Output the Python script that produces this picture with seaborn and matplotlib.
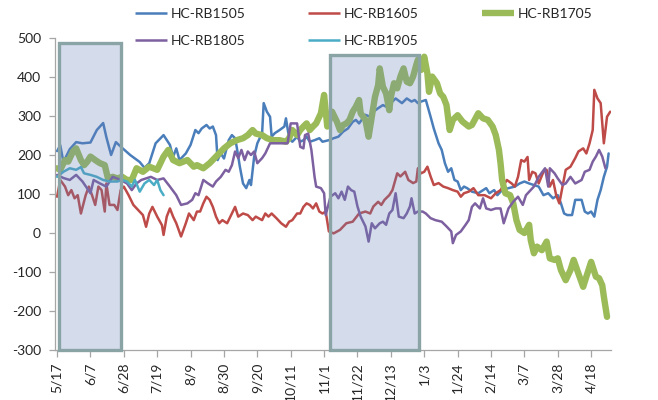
import numpy as np
import pandas as pd
import matplotlib
matplotlib.use("Agg")
import matplotlib.pyplot as plt
from matplotlib.patches import Rectangle
from matplotlib.lines import Line2D
import seaborn as sns

# ---------------- data (day offset from 5/17, spread value) ----------------
SERIES = ["HC-RB1505", "HC-RB1605", "HC-RB1705", "HC-RB1805", "HC-RB1905"]

rb1505_days = [0, 2, 4, 8, 12, 16, 21, 25, 29, 31, 34, 37, 41, 46, 52, 55, 58, 62, 67, 71, 73, 75, 77, 81, 84, 87, 89, 91, 94, 96, 98, 100, 101, 103, 105, 108, 110, 112, 113, 115, 117, 119, 121, 122, 124, 126, 129, 130, 132, 134, 135, 137, 140, 143, 144, 146, 148, 151, 153, 155, 157, 159, 162, 165, 167, 171, 174, 177, 180, 183, 186, 188, 190, 194, 197, 199, 202, 205, 207, 210, 213, 217, 220, 223, 225, 227, 229, 232, 235, 237, 240, 242, 244, 246, 248, 250, 252, 254, 256, 258, 261, 265, 268, 270, 272, 275, 277, 280, 284, 288, 291, 294, 297, 300, 303, 306, 309, 312, 315, 317, 319, 321, 324, 326, 330, 332, 334, 336, 338, 340, 342, 344, 346, 347]
rb1505_vals = [210, 225, 182, 215, 233, 230, 232, 264, 282, 246, 200, 233, 218, 200, 182, 167, 179, 230, 251, 226, 195, 217, 187, 204, 226, 264, 256, 268, 277, 268, 273, 251, 187, 204, 191, 238, 251, 243, 221, 170, 127, 115, 136, 123, 196, 230, 256, 333, 311, 298, 247, 256, 264, 273, 294, 243, 234, 247, 234, 238, 247, 234, 238, 243, 234, 238, 243, 247, 260, 268, 285, 290, 281, 303, 298, 311, 320, 328, 324, 333, 345, 333, 345, 337, 341, 333, 337, 341, 298, 268, 230, 213, 179, 157, 166, 136, 132, 110, 119, 115, 106, 102, 110, 115, 102, 110, 97, 110, 115, 119, 127, 132, 127, 123, 119, 97, 102, 89, 97, 76, 50, 46, 46, 85, 85, 55, 50, 55, 42, 85, 110, 144, 170, 204]

rb1605_days = [0, 2, 5, 7, 9, 11, 13, 15, 18, 20, 22, 24, 26, 28, 30, 31, 33, 36, 38, 40, 42, 45, 48, 51, 54, 56, 58, 60, 63, 66, 67, 69, 71, 73, 75, 78, 81, 83, 86, 88, 90, 92, 94, 96, 98, 100, 102, 104, 107, 109, 112, 114, 117, 120, 123, 125, 129, 131, 133, 135, 138, 141, 144, 146, 148, 151, 153, 155, 157, 159, 161, 163, 165, 167, 169, 171, 174, 178, 182, 186, 190, 194, 197, 199, 202, 204, 206, 209, 211, 214, 216, 219, 221, 224, 226, 227, 229, 231, 233, 235, 237, 240, 243, 246, 249, 252, 254, 256, 259, 262, 265, 269, 273, 276, 279, 281, 283, 286, 288, 290, 292, 294, 296, 297, 299, 301, 303, 306, 308, 310, 312, 314, 316, 318, 320, 323, 326, 328, 331, 333, 335, 337, 338, 340, 342, 344, 346, 348]
rb1605_vals = [93, 136, 119, 97, 110, 89, 97, 50, 97, 119, 97, 72, 119, 110, 55, 127, 72, 72, 59, 110, 119, 97, 72, 59, 46, 16, 50, 67, 42, 20, -5, 42, 63, 42, 25, -9, 25, 50, 33, 55, 55, 76, 93, 85, 67, 42, 25, 33, 25, 42, 67, 42, 50, 46, 33, 42, 33, 50, 42, 50, 38, 25, 16, 29, 33, 50, 50, 67, 76, 72, 63, 76, 55, 50, 55, 4, -1, 8, 25, 29, 50, 55, 50, 68, 80, 72, 85, 97, 110, 153, 145, 157, 136, 128, 132, 166, 153, 157, 170, 145, 123, 128, 119, 115, 110, 106, 93, 102, 106, 115, 97, 97, 89, 102, 110, 123, 136, 127, 119, 144, 187, 183, 195, 136, 157, 153, 127, 157, 162, 119, 136, 97, 76, 119, 162, 170, 192, 209, 217, 204, 230, 264, 367, 345, 333, 230, 298, 311]

rb1705_days = [0, 2, 5, 7, 10, 12, 15, 17, 19, 21, 24, 27, 30, 32, 35, 38, 41, 44, 47, 50, 54, 58, 63, 67, 70, 73, 77, 82, 86, 88, 92, 96, 100, 105, 109, 113, 117, 120, 123, 125, 129, 132, 136, 140, 144, 146, 148, 151, 153, 155, 157, 159, 161, 163, 166, 168, 170, 173, 176, 178, 180, 182, 184, 186, 188, 190, 191, 194, 196, 198, 200, 202, 203, 205, 207, 209, 210, 212, 214, 216, 218, 220, 222, 224, 226, 227, 229, 231, 233, 234, 236, 239, 241, 243, 245, 247, 249, 252, 255, 259, 261, 265, 268, 271, 274, 276, 278, 279, 280, 282, 285, 287, 289, 291, 294, 297, 298, 300, 302, 305, 308, 310, 313, 315, 317, 320, 323, 325, 328, 331, 333, 336, 339, 341, 343, 344, 346]
rb1705_vals = [166, 162, 187, 183, 209, 217, 187, 174, 183, 196, 187, 179, 174, 140, 144, 140, 144, 136, 136, 166, 157, 170, 162, 196, 213, 187, 179, 187, 170, 174, 166, 179, 196, 217, 230, 238, 243, 251, 264, 255, 251, 243, 238, 238, 234, 243, 264, 251, 264, 273, 281, 264, 273, 281, 307, 354, 273, 311, 286, 264, 277, 281, 290, 311, 324, 341, 307, 290, 247, 298, 349, 379, 422, 375, 358, 315, 349, 384, 371, 401, 422, 388, 384, 401, 431, 444, 418, 452, 409, 362, 401, 384, 358, 349, 328, 264, 290, 302, 286, 273, 277, 307, 294, 290, 273, 251, 213, 179, 136, 102, 97, 76, 33, 8, 0, 21, -18, -52, -35, -44, -22, -65, -69, -65, -95, -121, -95, -69, -104, -138, -112, -74, -112, -116, -134, -163, -215]

rb1805_days = [0, 4, 8, 12, 16, 21, 23, 27, 31, 35, 40, 44, 47, 50, 53, 56, 59, 63, 67, 71, 75, 78, 82, 85, 87, 89, 92, 95, 98, 100, 103, 106, 108, 110, 112, 114, 116, 118, 120, 122, 124, 126, 129, 131, 134, 138, 142, 145, 147, 151, 153, 155, 156, 158, 160, 162, 163, 166, 168, 169, 172, 175, 177, 179, 181, 183, 185, 187, 189, 191, 194, 196, 198, 200, 203, 205, 207, 209, 211, 213, 215, 218, 220, 222, 223, 225, 227, 230, 232, 235, 238, 242, 245, 248, 249, 251, 254, 257, 259, 261, 263, 266, 268, 270, 273, 276, 279, 281, 284, 287, 290, 293, 295, 298, 300, 303, 307, 309, 310, 313, 315, 318, 320, 323, 326, 330, 332, 335, 337, 339, 341, 343, 345]
rb1805_vals = [149, 141, 136, 149, 132, 102, 136, 127, 119, 144, 136, 127, 110, 127, 136, 140, 144, 136, 140, 119, 97, 72, 76, 85, 102, 97, 136, 127, 119, 132, 144, 162, 157, 174, 209, 192, 213, 187, 209, 200, 209, 179, 192, 204, 230, 230, 230, 230, 281, 281, 221, 217, 251, 255, 213, 144, 119, 115, 102, 46, 93, 102, 89, 106, 85, 119, 110, 106, 68, 42, 17, -22, 25, 12, 25, 29, 21, 50, 59, 102, 42, 38, 50, 68, 89, 50, 55, 55, 50, 38, 33, 29, 17, 4, -26, -5, 4, 21, 33, 67, 76, 63, 89, 63, 59, 63, 63, 25, 63, 80, 93, 72, 97, 110, 119, 144, 166, 119, 166, 153, 140, 123, 127, 144, 127, 136, 157, 162, 183, 196, 213, 196, 166]

rb1905_days = [0, 4, 8, 12, 15, 17, 21, 25, 29, 33, 38, 41, 44, 47, 49, 52, 55, 58, 61, 63, 65, 67]
rb1905_vals = [144, 157, 166, 162, 169, 153, 149, 144, 136, 132, 132, 136, 132, 119, 136, 106, 127, 136, 123, 136, 110, 97]

TICK_DAYS = [0, 21, 42, 63, 84, 105, 126, 147, 168, 189, 210, 231, 252, 273, 294, 315, 336]
TICK_LABELS = ["5/17", "6/7", "6/28", "7/19", "8/9", "8/30", "9/20", "10/11", "11/1",
               "11/22", "12/13", "1/3", "1/24", "2/14", "3/7", "3/28", "4/18"]
Y_TICKS = [-300, -200, -100, 0, 100, 200, 300, 400, 500]

# highlighted periods: (start day, end day, top value)
SHADE_SPANS = [(1.3, 40.2, 487), (171.5, 228.0, 456)]

# ---------------- build dataframe ----------------
series_data = {
    "HC-RB1505": (rb1505_days, rb1505_vals),
    "HC-RB1605": (rb1605_days, rb1605_vals),
    "HC-RB1705": (rb1705_days, rb1705_vals),
    "HC-RB1805": (rb1805_days, rb1805_vals),
    "HC-RB1905": (rb1905_days, rb1905_vals),
}
frames = []
for name, (d, v) in series_data.items():
    frames.append(pd.DataFrame({"day": d, "value": v, "series": name}))
df = pd.concat(frames, ignore_index=True)

COLORS = {
    "HC-RB1505": "#4a7ebb",
    "HC-RB1605": "#be4b48",
    "HC-RB1705": "#9bbb59",
    "HC-RB1805": "#7d60a0",
    "HC-RB1905": "#4bacc6",
}
WIDTHS = {
    "HC-RB1505": 1.8,
    "HC-RB1605": 1.8,
    "HC-RB1705": 4.6,
    "HC-RB1805": 1.8,
    "HC-RB1905": 1.8,
}

# ---------------- plot ----------------
sns.set_theme(style="white")
plt.rcParams["font.family"] = ["Lato", "DejaVu Sans"]

fig = plt.figure(figsize=(6.58, 4.0), dpi=100)
ax = fig.add_axes([55 / 658, 50 / 400, (611 - 55) / 658, (350 - 38) / 400])

for name in SERIES:
    sub = df[df["series"] == name]
    sns.lineplot(data=sub, x="day", y="value", ax=ax, color=COLORS[name],
                 linewidth=WIDTHS[name], legend=False, estimator=None,
                 solid_joinstyle="round", solid_capstyle="round")

for (x0, x1, top) in SHADE_SPANS:
    ax.add_patch(Rectangle((x0, -300), x1 - x0, top + 300, facecolor=(0.40, 0.50, 0.72),
                           alpha=0.28, edgecolor="none", zorder=5))
    ax.add_patch(Rectangle((x0, -300), x1 - x0, top + 300, facecolor="none",
                           edgecolor="#8aa3a4", linewidth=2.4, zorder=6, clip_on=False))

ax.set_xlim(-1.3, 348.5)
ax.set_ylim(-300, 500)
ax.set_xticks(TICK_DAYS)
ax.set_xticklabels(TICK_LABELS, rotation=90)
ax.set_yticks(Y_TICKS)
ax.set_yticklabels([str(v) for v in Y_TICKS])
ax.set_xlabel("")
ax.set_ylabel("")

for s in ["top", "right"]:
    ax.spines[s].set_visible(False)
for s in ["left", "bottom"]:
    ax.spines[s].set_color("#a6a6a6")
    ax.spines[s].set_linewidth(0.9)

ax.tick_params(axis="y", direction="out", length=4, width=0.9, color="#a6a6a6",
               labelsize=10, labelcolor="#262626", pad=6, left=True)
ax.tick_params(axis="x", direction="out", length=5, width=0.9, color="#a6a6a6",
               labelsize=10, labelcolor="#262626", pad=4, bottom=True)
ax.grid(False)

# legend (row-major order as in the reference)
order = ["HC-RB1505", "HC-RB1805", "HC-RB1605", "HC-RB1905", "HC-RB1705"]
handles = [Line2D([0], [0], color=COLORS[n], linewidth=WIDTHS[n], solid_capstyle="butt")
           for n in order]
fig.legend(handles, order, ncol=3, loc="upper left",
           bbox_to_anchor=(135 / 658, 1 - 8 / 400), frameon=False,
           handlelength=2.3, handletextpad=0.25, columnspacing=4.55,
           labelspacing=1.05, fontsize=10, borderpad=0, borderaxespad=0,
           labelcolor="#262626")

fig.savefig("out.png", dpi=100)
